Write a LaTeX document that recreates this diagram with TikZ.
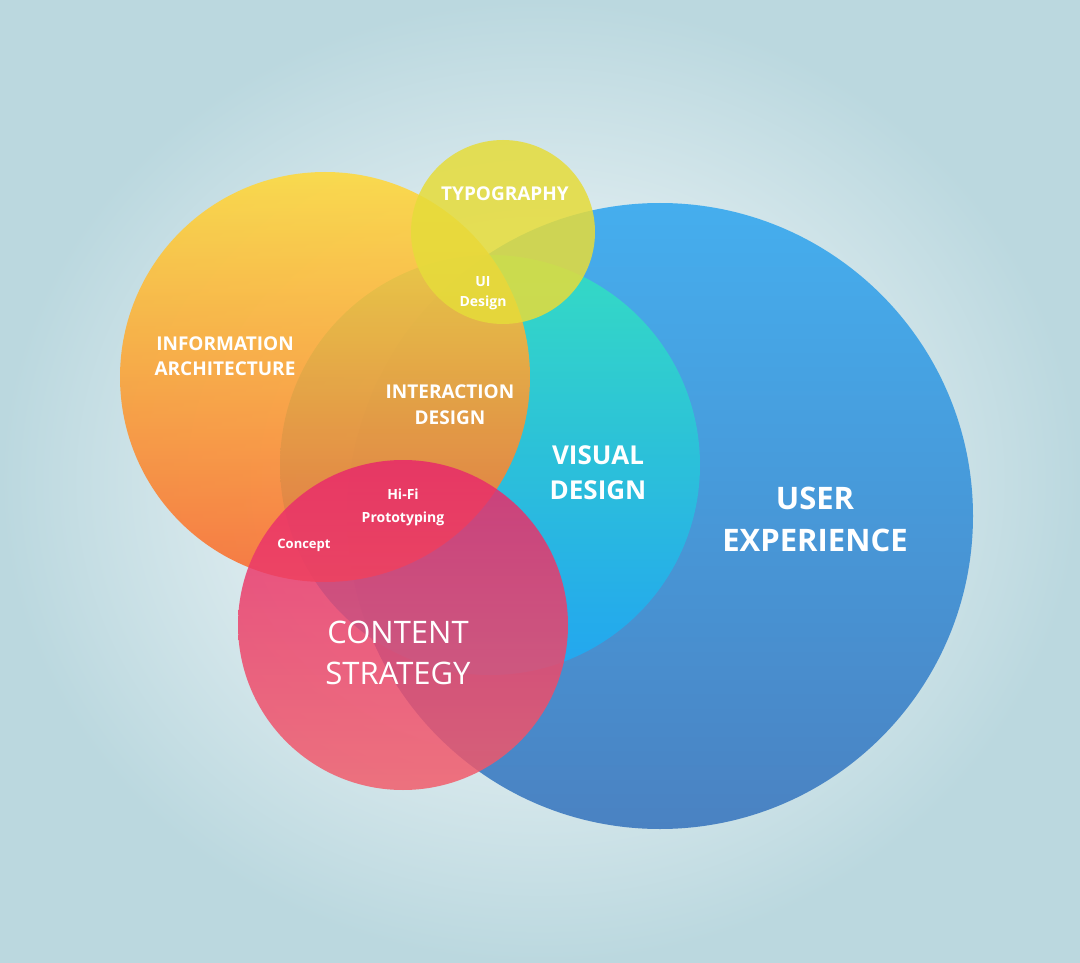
\documentclass[tikz,border=0pt]{standalone}
\usepackage{fontspec}
\setmainfont{Open Sans}
\usetikzlibrary{positioning}
\definecolor{bgedge}{HTML}{BBD8DF}
\definecolor{uxtop}{HTML}{45AEEE}
\definecolor{uxbot}{HTML}{4A82C2}
\definecolor{vdtop}{HTML}{33E0C0}
\definecolor{vdbot}{HTML}{1FA8F5}
\definecolor{iatop}{HTML}{FFD93A}
\definecolor{iabot}{HTML}{FA6A2E}
\definecolor{typo}{HTML}{E6DC3A}
\definecolor{cstop}{HTML}{E8276A}
\definecolor{csbot}{HTML}{F25C6A}
\newcommand*\twoLines[2]{#1\\#2}
\begin{document}
\begin{tikzpicture}[x=1pt,y=-1pt,
    blob/.style = { circle, inner sep=0pt, outer sep=0pt, draw=none },
    lbl/.style = { text = white, align = center, font = \bfseries, inner sep=0pt },
    ]
    % background
    \path[inner color=white, outer color=bgedge] (0,0) rectangle (1080,963);
    \useasboundingbox (0,0) rectangle (1080,963);

    \node[blob, minimum size=626, top color=uxtop, bottom color=uxbot] (UX) at (660,516) {};
    \node[blob, minimum size=420, top color=vdtop, bottom color=vdbot, fill opacity=0.9] (VD) at (490,465) {};
    \node[blob, minimum size=410, top color=iatop, bottom color=iabot, fill opacity=0.88] (IA) at (325,377) {};
    \node[blob, minimum size=184, fill=typo, fill opacity=0.85] (TY) at (503,232) {};
    \node[blob, minimum size=330, top color=cstop, bottom color=csbot, fill opacity=0.84] (CS) at (403,625) {};

    \node[lbl, font=\bfseries\fontsize{19}{22}\selectfont] (lTY) at (505,194) {TYPOGRAPHY};
    \node[lbl, font=\bfseries\fontsize{14}{20}\selectfont] (lUI) at (483,293) {\twoLines{UI}{Design}};
    \node[lbl, font=\bfseries\fontsize{19}{25}\selectfont] (lIA) at (225,356) {\twoLines{INFORMATION}{ARCHITECTURE}};
    \node[lbl, font=\bfseries\fontsize{19}{26}\selectfont] (lID) at (450,405) {\twoLines{INTERACTION}{DESIGN}};
    \node[lbl, font=\bfseries\fontsize{26}{35}\selectfont] (lVD) at (598,473) {\twoLines{VISUAL}{DESIGN}};
    \node[lbl, font=\bfseries\fontsize{31}{42}\selectfont] (lUX) at (815,519) {\twoLines{USER}{EXPERIENCE}};
    \node[lbl, font=\bfseries\fontsize{14}{23}\selectfont] (lHF) at (403,507) {\twoLines{Hi-Fi}{Prototyping}};
    \node[lbl, font=\bfseries\fontsize{13}{16}\selectfont] (lCO) at (304,545) {Concept};
    \node[lbl, font=\fontsize{31}{41}\selectfont] (lCS) at (398,653) {\twoLines{CONTENT}{STRATEGY}};
\end{tikzpicture}
\end{document}
